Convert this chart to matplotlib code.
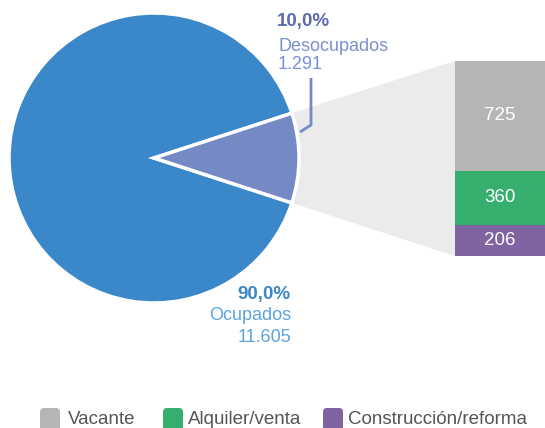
import matplotlib.pyplot as plt
from matplotlib.patches import Polygon, FancyBboxPatch

# data
pie_labels = ["Ocupados", "Desocupados"]
pie_values = [11605, 1291]
pie_pct = ["90,0%", "10,0%"]
pie_num = ["11.605", "1.291"]
bar_labels = ["Construcción/reforma", "Alquiler/venta", "Vacante"]
bar_values = [206, 360, 725]

pie_colors = ["#3a88c9", "#7589c4"]
bar_colors = ["#8064a2", "#36ae6e", "#b5b5b5"]

W, H = 545, 428
fig = plt.figure(figsize=(W / 100, H / 100), dpi=100)
ax = fig.add_axes([0, 0, 1, 1])

font = "Liberation Sans"
cx, cy, r = 154, 270, 145

# connector band between wedge and bar
bar_x0, bar_x1 = 455, 545
bar_bottom, bar_top = 172, 367
ax.add_patch(Polygon([(cx + 20, cy + 5), (292, 315), (bar_x0, bar_top),
                      (bar_x0, bar_bottom), (292, 225), (cx + 20, cy - 5)],
                     closed=True, facecolor="#ebebeb", edgecolor="none", zorder=0))

ax.pie(pie_values, colors=pie_colors, startangle=18, counterclock=True,
       center=(cx, cy), radius=r, frame=True,
       wedgeprops=dict(edgecolor="white", linewidth=2.5))
ax.set_xlim(0, W)
ax.set_ylim(0, H)
ax.set_aspect("equal")
ax.axis("off")

# stacked bar
scale = (bar_top - bar_bottom) / sum(bar_values)
bottom = bar_bottom
for lab, v, c in zip(bar_labels, bar_values, bar_colors):
    h = v * scale
    ax.bar((bar_x0 + bar_x1) / 2, h, width=bar_x1 - bar_x0, bottom=bottom,
           color=c, edgecolor="none", zorder=3, label=lab)
    ax.text((bar_x0 + bar_x1) / 2, bottom + h / 2, str(v), color="white",
            ha="center", va="center", fontsize=13.5, family=font, zorder=4)
    bottom += h

# leader line for Desocupados
ax.plot([311, 311, 300], [350, 303, 296], color="#7589c4", lw=2, zorder=5,
        solid_capstyle="butt")

# labels
ax.text(277, 407, pie_pct[1], color="#5b6cb2", fontsize=13.5, fontweight="bold",
        family=font, ha="left", va="center")
ax.text(278, 382, pie_labels[1], color="#7b8fcf", fontsize=13,
        family=font, ha="left", va="center")
ax.text(278, 364, pie_num[1], color="#7b8fcf", fontsize=13,
        family=font, ha="left", va="center")

ax.text(291, 134, pie_pct[0], color="#3a88c9", fontsize=13.5, fontweight="bold",
        family=font, ha="right", va="center")
ax.text(291, 112, pie_labels[0], color="#5ba3dc", fontsize=13,
        family=font, ha="right", va="center")
ax.text(291, 91, pie_num[0], color="#5ba3dc", fontsize=13,
        family=font, ha="right", va="center")

# legend (drawn by hand to match spacing)
leg_box_x = [40, 163, 323]
leg_text_x = [68, 188, 348]
for bx, tx, lab, c in zip(leg_box_x, leg_text_x, reversed(bar_labels),
                          reversed(bar_colors)):
    ax.add_patch(FancyBboxPatch((bx + 3, 0), 14, 17,
                                boxstyle="round,pad=3,rounding_size=4",
                                facecolor=c, edgecolor="none", clip_on=False))
    ax.text(tx, 8, lab, color="#555555", fontsize=13.5, family=font,
            ha="left", va="center")

fig.savefig("out.png", dpi=100)
